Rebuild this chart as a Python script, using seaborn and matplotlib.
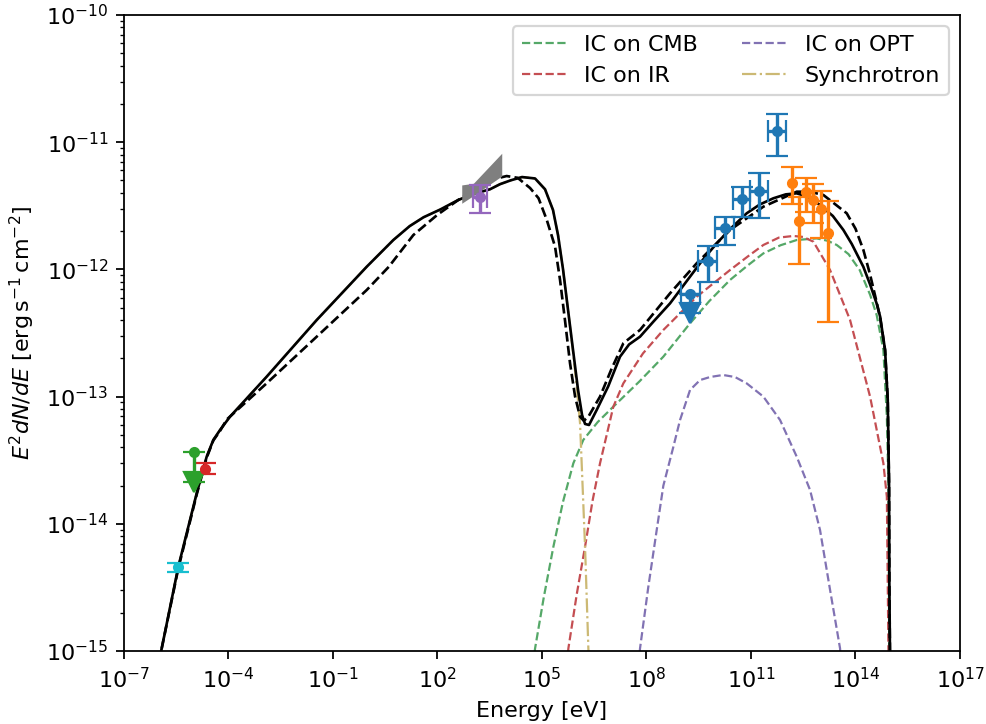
import numpy as np
import pandas as pd
import matplotlib
matplotlib.use("Agg")
import matplotlib.pyplot as plt
import seaborn as sns

# ---------------- data (log10 values) ----------------
# total model (solid)
tot_logE = [-6.0, -5.918, -5.44, -4.913, -4.626, -4.436, -4.244, -3.957, -2.903, -1.468, -0.032,
            0.732, 1.2, 1.6, 2.073, 2.598, 3.0, 3.508, 3.795, 4.1, 4.427, 4.8, 5.087, 5.316, 5.46,
            5.604, 5.748, 5.891, 6.035, 6.15, 6.236, 6.35, 6.57, 6.9, 7.24, 7.5, 7.814, 8.2,
            8.676, 9.25, 9.6, 10.015, 10.45, 10.876, 11.25, 11.642, 12.0, 12.312, 12.65, 12.982,
            13.35, 13.652, 13.893, 14.226, 14.421, 14.609, 14.708, 14.849, 14.926, 14.963, 14.972, 14.992]
tot_logF = [-15.09, -14.98, -14.337, -13.76, -13.472, -13.341, -13.263, -13.158, -12.843, -12.398, -11.979,
            -11.769, -11.66, -11.59, -11.53, -11.454, -11.41, -11.37, -11.33, -11.30, -11.274, -11.285, -11.37, -11.533, -11.73,
            -12.0, -12.32, -12.634, -12.948, -13.145, -13.215, -13.223, -13.105, -12.92, -12.686, -12.59, -12.529, -12.41,
            -12.267, -12.057, -11.93, -11.795, -11.67, -11.559, -11.49, -11.441, -11.41, -11.402, -11.43, -11.494,
            -11.58, -11.69, -11.80, -11.98, -12.12, -12.27, -12.372, -12.634, -13.027, -13.682, -14.468, -15.1]
# alternative model (dashed)
alt_logE = [-6.0, -5.918, -5.44, -4.913, -4.626, -4.436, -4.244, -4.05, -2.903, -1.468, -0.032,
            0.6, 1.306, 2.0, 2.598, 3.3, 3.7, 3.985, 4.3, 4.657, 4.9, 5.136, 5.374, 5.518, 5.66,
            5.805, 5.95, 6.092, 6.2, 6.331, 6.666, 7.0, 7.335, 7.814, 8.676, 9.441, 10.398, 11.355,
            12.312, 12.7, 13.078, 13.748, 14.0, 14.226, 14.418, 14.609, 14.708, 14.849, 14.926, 14.963,
            14.972, 14.992]
alt_logF = [-15.09, -14.98, -14.35, -13.77, -13.48, -13.345, -13.27, -13.18, -12.895, -12.529, -12.162,
            -11.98, -11.73, -11.57, -11.454, -11.33, -11.285, -11.266, -11.28, -11.36, -11.44, -11.61, -11.82, -12.083, -12.4,
            -12.739, -13.0, -13.158, -13.19, -13.158, -13.0, -12.78, -12.581, -12.476, -12.188, -11.952, -11.69, -11.507,
            -11.389, -11.39, -11.415, -11.559, -11.68, -11.847, -12.04, -12.26, -12.38, -12.634, -13.027, -13.682,
            -14.468, -15.1]
# synchrotron component
syn_logE = [-6.0, -5.918, -5.44, -4.913, -4.626, -4.436, -4.244, -3.957, -2.903, -1.468, -0.032,
            0.732, 1.2, 1.6, 2.073, 2.598, 3.0, 3.508, 3.795, 4.1, 4.427, 4.8, 5.087, 5.316, 5.46,
            5.604, 5.748, 5.891, 6.0, 6.092, 6.139, 6.236, 6.331, 6.35]
syn_logF = [-15.09, -14.98, -14.337, -13.76, -13.472, -13.341, -13.263, -13.158, -12.843, -12.398, -11.979,
            -11.769, -11.66, -11.59, -11.53, -11.454, -11.41, -11.37, -11.33, -11.30, -11.274, -11.285, -11.37, -11.533, -11.73,
            -12.0, -12.32, -12.65, -12.93, -13.21, -13.524, -14.18, -14.98, -15.1]
# inverse-Compton components
cmb_logE = [4.75, 4.801, 5.05, 5.327, 5.6, 5.9, 6.187, 6.6, 7.048, 7.8, 8.484, 9.25, 9.8, 10.398,
            10.9, 11.355, 11.85, 12.312, 12.886, 13.2, 13.461, 13.8, 14.121, 14.42, 14.609, 14.8,
            14.9, 14.944, 14.97]
cmb_logF = [-15.1, -14.98, -14.58, -14.18, -13.83, -13.524, -13.34, -13.2, -13.079, -12.88, -12.686, -12.424, -12.25, -12.083,
            -11.97, -11.874, -11.81, -11.769, -11.756, -11.775, -11.808, -11.88, -12.005, -12.2, -12.36, -12.634,
            -13.158, -13.68, -15.1]
ir_logE = [5.72, 5.757, 6.0, 6.236, 6.45, 6.666, 7.048, 7.335, 7.9, 8.484, 9.441, 10.398, 10.9,
           11.355, 11.8, 12.217, 12.5, 12.791, 13.27, 13.844, 14.418, 14.8, 14.9, 14.95]
ir_logF = [-15.1, -14.98, -14.55, -14.18, -13.82, -13.524, -13.079, -12.896, -12.66, -12.476, -12.215, -12.005, -11.9,
           -11.808, -11.75, -11.737, -11.745, -11.782, -12.005, -12.398, -13.0, -13.524, -13.787, -15.1]
opt_logE = [7.78, 7.814, 8.05, 8.293, 8.484, 8.772, 8.963, 9.25, 9.537, 9.824, 10.198, 10.54, 10.876,
            11.355, 11.834, 12.312, 12.695, 12.982, 13.27, 13.557, 13.58]
opt_logF = [-15.1, -14.98, -14.5, -14.049, -13.70, -13.394, -13.184, -12.948, -12.87, -12.846, -12.83, -12.846, -12.896,
            -13.0, -13.184, -13.472, -13.734, -14.049, -14.52, -14.98, -15.1]

# butterfly (grey band)
bfly_logE = [2.696, 3.03, 3.844]
bfly_lo = [-11.48, -11.42, -11.266]
bfly_hi = [-11.336, -11.323, -11.087]

# data points
cyan_logE, cyan_logF, cyan_lo, cyan_hi = [-5.44], [-14.337], [-14.377], [-14.306]
red_logE, red_logF, red_lo, red_hi = [-4.674], [-13.572], [-13.608], [-13.524]
green_logE, green_logF, green_lim = [-4.99], [-13.433], [-13.67]
purple_logE, purple_logF = [3.221], [-11.433]
purple_Elo, purple_Ehi, purple_lo, purple_hi = [3.029], [3.414], [-11.554], [-11.336]

blue_logE = [11.739, 11.24, 10.73, 10.255, 9.755]
blue_logF = [-10.912, -11.384, -11.449, -11.677, -11.932]
blue_Elo = [11.499, 10.97, 10.475, 9.969, 9.468]
blue_Ehi = [12.004, 11.499, 10.97, 10.515, 10.015]
blue_lo = [-11.108, -11.598, -11.585, -11.808, -12.097]
blue_hi = [-10.778, -11.24, -11.355, -11.585, -11.813]
blueUL_logE, blueUL_logF, blueUL_Elo, blueUL_Ehi, blueUL_lim = [9.25], [-12.193], [8.985], [9.531], [-12.345]

orange_logE = [12.187, 12.387, 12.581, 12.79, 13.0, 13.2]
orange_logF = [-11.318, -11.62, -11.392, -11.457, -11.528, -11.711]
orange_lo = [-11.486, -11.96, -11.546, -11.638, -11.756, -12.411]
orange_hi = [-11.193, -11.428, -11.279, -11.329, -11.384, -11.46]

labels = ["IC on CMB", "IC on IR", "IC on OPT", "Synchrotron"]

# ---------------- plotting ----------------
p = lambda v: 10.0 ** np.asarray(v, dtype=float)

DPI = 160
fig = plt.figure(figsize=(986 / DPI, 724 / DPI), dpi=DPI)
ax = fig.add_axes([0.12576, 0.10083, 0.84787, 0.87845])
ax.set_xscale("log")
ax.set_yscale("log")

deep = sns.color_palette("deep")
c_cmb, c_ir, c_opt, c_syn = deep[2], deep[3], deep[4], deep[8]

def line(xs, ys, **kw):
    df = pd.DataFrame({"E": p(xs), "F": p(ys)})
    sns.lineplot(data=df, x="E", y="F", ax=ax, estimator=None, sort=False, **kw)

line(cmb_logE, cmb_logF, color=c_cmb, lw=1.0, linestyle="--", label=labels[0])
line(ir_logE, ir_logF, color=c_ir, lw=1.0, linestyle="--", label=labels[1])
line(opt_logE, opt_logF, color=c_opt, lw=1.0, linestyle="--", label=labels[2])
line(syn_logE, syn_logF, color=c_syn, lw=1.0, linestyle="-.", label=labels[3])
line(tot_logE, tot_logF, color="k", lw=1.2, linestyle="-")
line(alt_logE, alt_logF, color="k", lw=1.2, linestyle="--")

ax.fill_between(p(bfly_logE), p(bfly_lo), p(bfly_hi), color="tab:gray", lw=0, zorder=3)

ekw = dict(fmt="o", ms=4, capsize=5, zorder=4)

def yerr_of(f, lo, hi):
    f, lo, hi = p(f), p(lo), p(hi)
    return np.vstack([f - lo, hi - f])

def xerr_of(e, lo, hi):
    e, lo, hi = p(e), p(lo), p(hi)
    return np.vstack([e - lo, hi - e])

ax.errorbar(p(cyan_logE), p(cyan_logF), yerr=yerr_of(cyan_logF, cyan_lo, cyan_hi), color="tab:cyan", **ekw)
ax.errorbar(p(red_logE), p(red_logF), yerr=yerr_of(red_logF, red_lo, red_hi), color="tab:red", **ekw)
ax.errorbar(p(green_logE), p(green_logF), yerr=yerr_of(green_logF, green_lim, green_logF), color="tab:green", **ekw)
ax.plot(p(green_logE), p(green_lim), "v", color="tab:green", ms=9, zorder=4)
ax.errorbar(p(purple_logE), p(purple_logF), xerr=xerr_of(purple_logE, purple_Elo, purple_Ehi),
            yerr=yerr_of(purple_logF, purple_lo, purple_hi), color="tab:purple", **ekw)
ax.errorbar(p(blue_logE), p(blue_logF), xerr=xerr_of(blue_logE, blue_Elo, blue_Ehi),
            yerr=yerr_of(blue_logF, blue_lo, blue_hi), color="tab:blue", ls="none", **ekw)
ax.errorbar(p(blueUL_logE), p(blueUL_logF), xerr=xerr_of(blueUL_logE, blueUL_Elo, blueUL_Ehi),
            yerr=yerr_of(blueUL_logF, blueUL_lim, blueUL_logF), color="tab:blue", **ekw)
ax.plot(p(blueUL_logE), p(blueUL_lim), "v", color="tab:blue", ms=9, zorder=4)
ax.errorbar(p(orange_logE), p(orange_logF), yerr=yerr_of(orange_logF, orange_lo, orange_hi),
            color="tab:orange", ls="none", **ekw)

ax.set_xlim(1e-7, 1e17)
ax.set_ylim(1e-15, 1e-10)
ax.set_xlabel("Energy [eV]")
ax.set_ylabel(r"$E^2dN/dE$ [$\mathrm{erg\,s^{-1}\,cm^{-2}}$]")

handles = ax.get_lines()[:4]
ax.legend(handles=handles, labels=labels, loc="upper right", ncol=2)

fig.savefig("out.png", dpi=DPI)
